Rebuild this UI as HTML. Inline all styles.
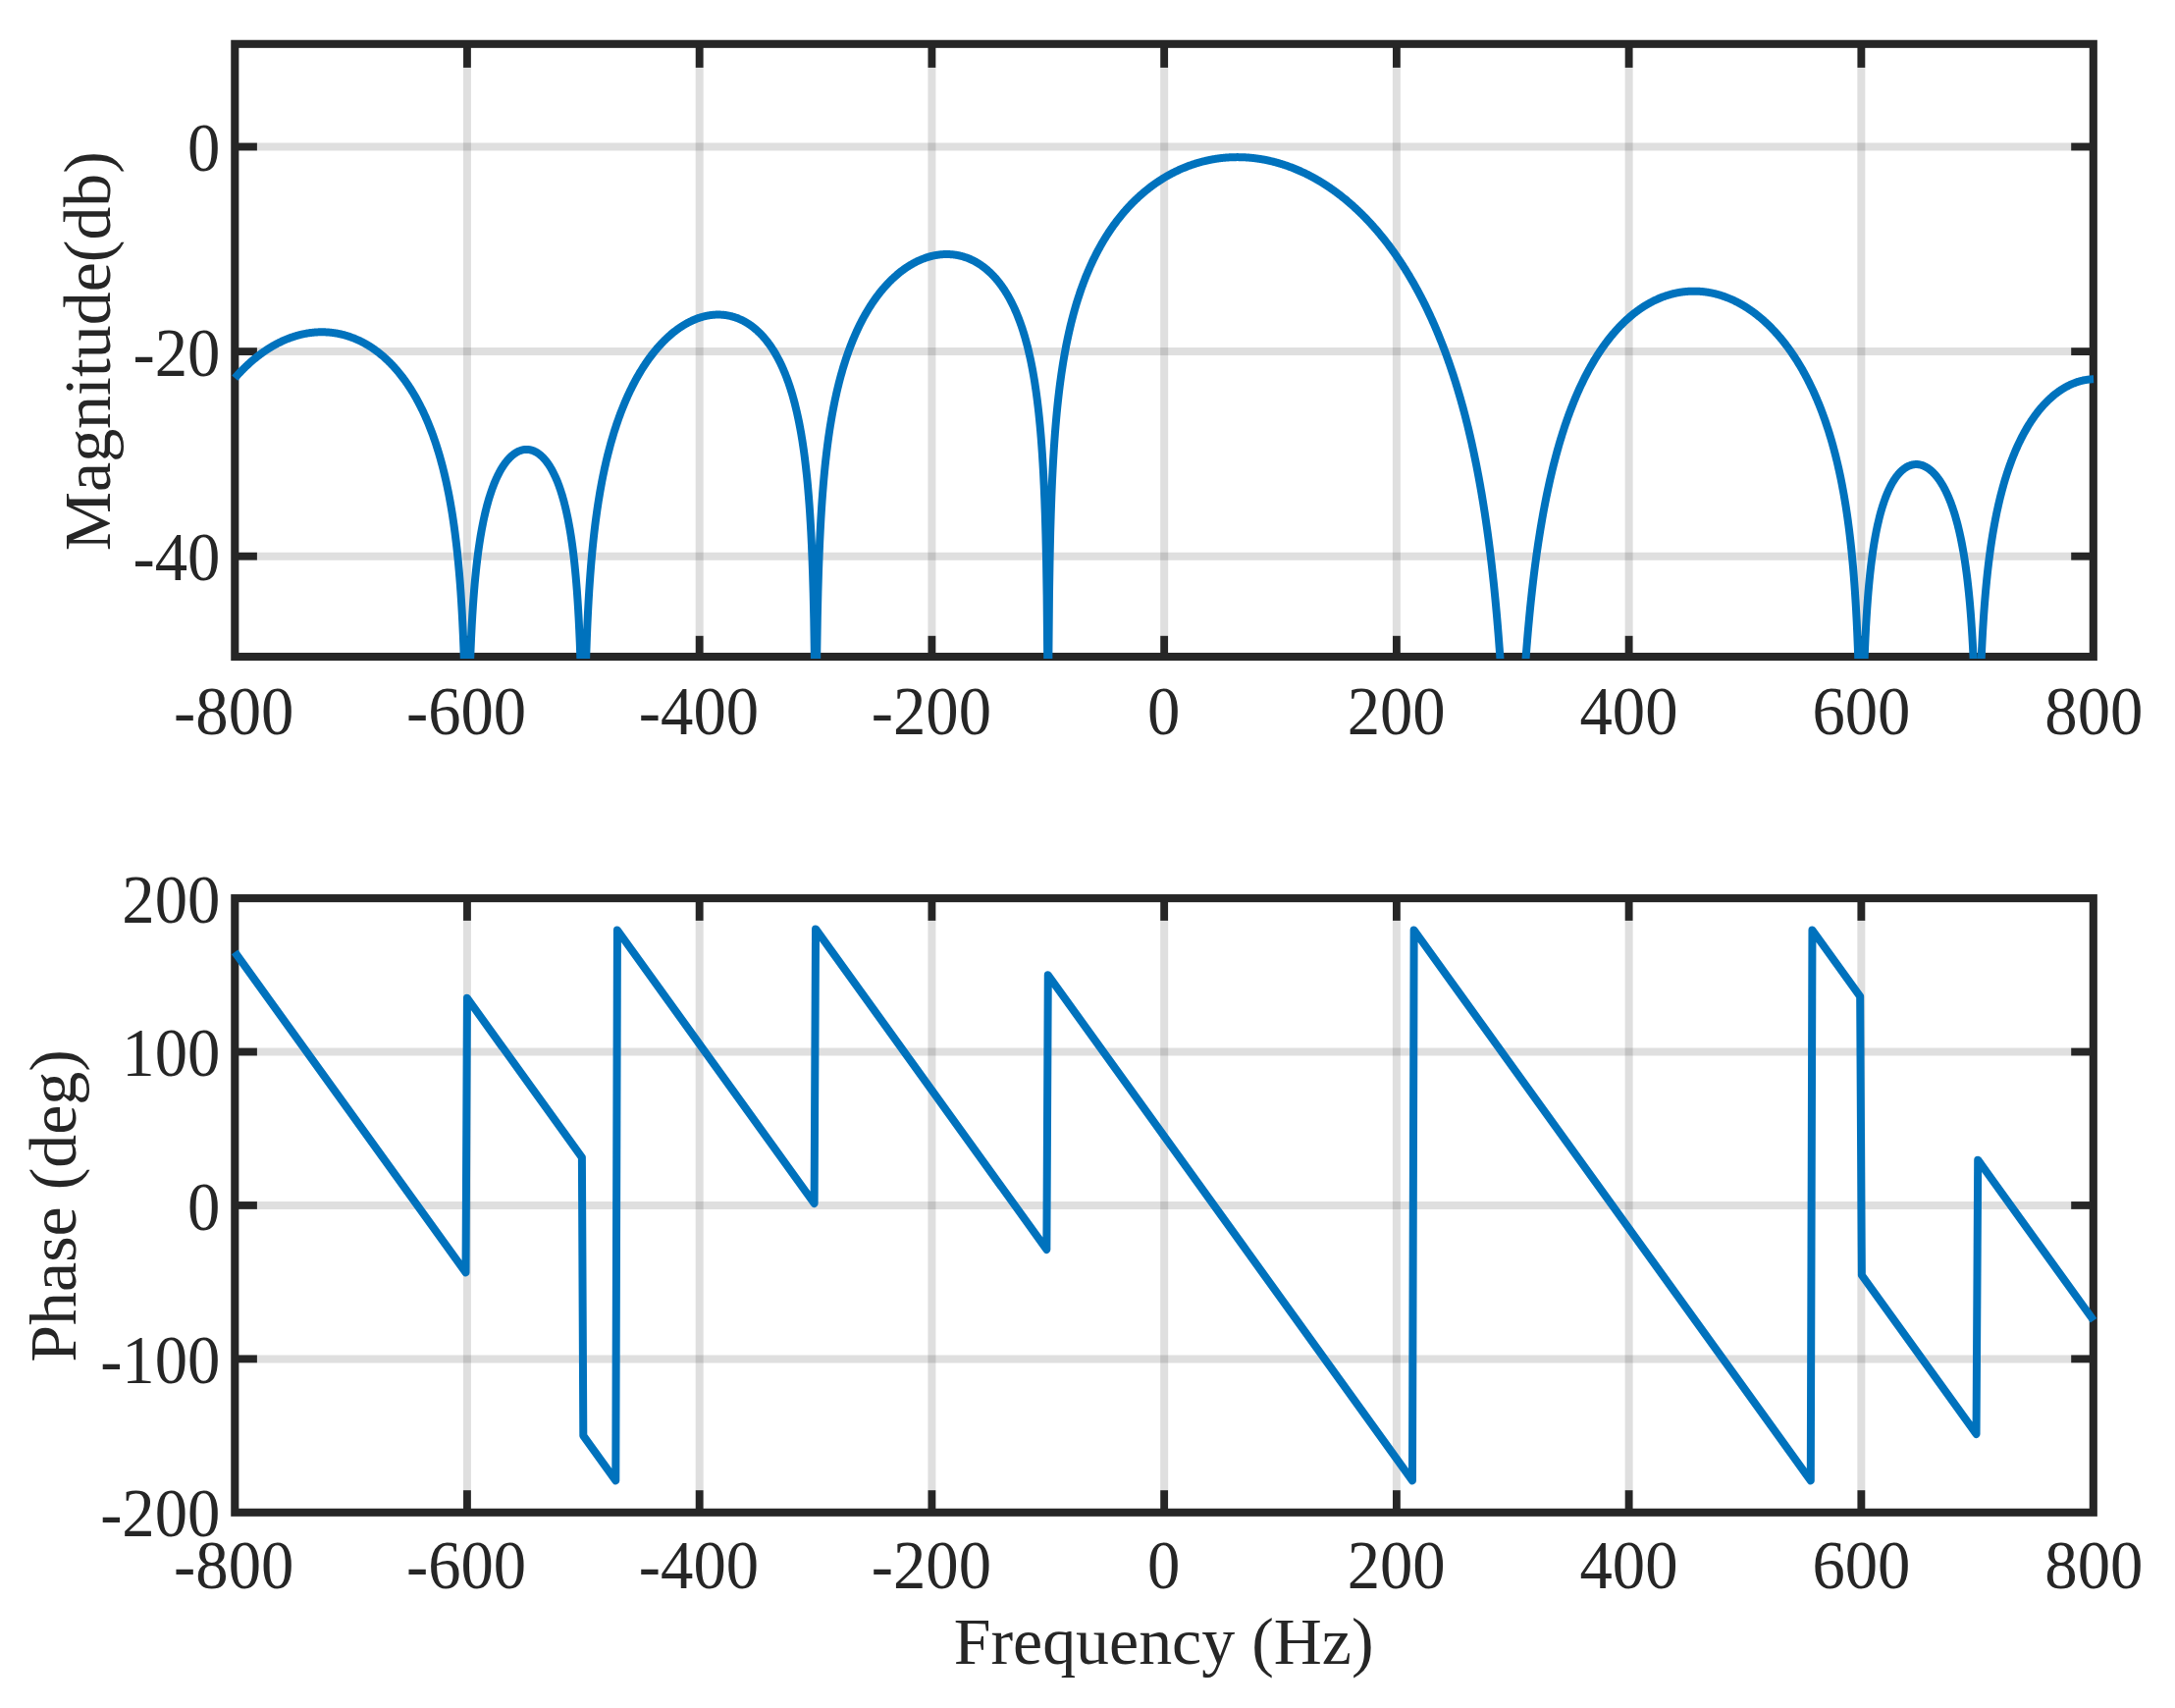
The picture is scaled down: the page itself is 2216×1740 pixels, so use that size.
<!DOCTYPE html>
<html lang="en"><head><meta charset="utf-8"><title>Magnitude and phase response</title>
<style>html,body{margin:0;padding:0;background:#fff;overflow:hidden}svg{display:block}text{font-family:"Liberation Serif","Times New Roman",Times,serif;font-size:67.90px;fill:#262626}.k{font-size:66.70px}.g{stroke:#262626;stroke-opacity:0.15;stroke-width:8.00}.t{stroke:#262626;stroke-width:7.80}.b{fill:none;stroke:#262626;stroke-width:8.10}.c{fill:none;stroke:#0072bd;stroke-width:8.00;stroke-linejoin:round;stroke-linecap:butt}</style></head><body>
<svg width="2216" height="1740" viewBox="0 0 2216 1740">
<rect width="2216" height="1740" fill="#fff"/>
<defs><clipPath id="ct"><rect x="227.20" y="44.80" width="1917.90" height="626.20"/></clipPath></defs>
<g>
<line class="g" x1="475.94" y1="44.80" x2="475.94" y2="669.00"/>
<line class="g" x1="712.67" y1="44.80" x2="712.67" y2="669.00"/>
<line class="g" x1="949.41" y1="44.80" x2="949.41" y2="669.00"/>
<line class="g" x1="1186.15" y1="44.80" x2="1186.15" y2="669.00"/>
<line class="g" x1="1422.89" y1="44.80" x2="1422.89" y2="669.00"/>
<line class="g" x1="1659.62" y1="44.80" x2="1659.62" y2="669.00"/>
<line class="g" x1="1896.36" y1="44.80" x2="1896.36" y2="669.00"/>
<line class="g" x1="239.30" y1="149.50" x2="2132.80" y2="149.50"/>
<line class="g" x1="239.30" y1="358.10" x2="2132.80" y2="358.10"/>
<line class="g" x1="239.30" y1="566.70" x2="2132.80" y2="566.70"/>
<line class="t" x1="475.94" y1="44.80" x2="475.94" y2="68.90"/>
<line class="t" x1="475.94" y1="669.00" x2="475.94" y2="647.80"/>
<line class="t" x1="712.67" y1="44.80" x2="712.67" y2="68.90"/>
<line class="t" x1="712.67" y1="669.00" x2="712.67" y2="647.80"/>
<line class="t" x1="949.41" y1="44.80" x2="949.41" y2="68.90"/>
<line class="t" x1="949.41" y1="669.00" x2="949.41" y2="647.80"/>
<line class="t" x1="1186.15" y1="44.80" x2="1186.15" y2="68.90"/>
<line class="t" x1="1186.15" y1="669.00" x2="1186.15" y2="647.80"/>
<line class="t" x1="1422.89" y1="44.80" x2="1422.89" y2="68.90"/>
<line class="t" x1="1422.89" y1="669.00" x2="1422.89" y2="647.80"/>
<line class="t" x1="1659.62" y1="44.80" x2="1659.62" y2="68.90"/>
<line class="t" x1="1659.62" y1="669.00" x2="1659.62" y2="647.80"/>
<line class="t" x1="1896.36" y1="44.80" x2="1896.36" y2="68.90"/>
<line class="t" x1="1896.36" y1="669.00" x2="1896.36" y2="647.80"/>
<line class="t" x1="239.30" y1="149.50" x2="261.90" y2="149.50"/>
<line class="t" x1="2132.80" y1="149.50" x2="2110.20" y2="149.50"/>
<line class="t" x1="239.30" y1="358.10" x2="261.90" y2="358.10"/>
<line class="t" x1="2132.80" y1="358.10" x2="2110.20" y2="358.10"/>
<line class="t" x1="239.30" y1="566.70" x2="261.90" y2="566.70"/>
<line class="t" x1="2132.80" y1="566.70" x2="2110.20" y2="566.70"/>
<rect class="b" x="239.30" y="44.80" width="1893.50" height="624.20"/>
</g>
<path class="c" clip-path="url(#ct)" d="M239.20,385.22 L239.79,384.55 L240.38,383.88 L240.98,383.22 L241.57,382.57 L242.16,381.92 L242.75,381.28 L243.34,380.64 L243.93,380.01 L244.53,379.38 L245.12,378.76 L245.71,378.15 L246.30,377.54 L246.89,376.94 L247.49,376.34 L248.08,375.75 L248.67,375.17 L249.26,374.59 L249.85,374.01 L250.45,373.44 L251.04,372.88 L251.63,372.32 L252.22,371.77 L252.81,371.22 L253.40,370.68 L254.00,370.14 L254.59,369.61 L255.18,369.08 L255.77,368.56 L256.36,368.05 L256.96,367.53 L257.55,367.03 L258.14,366.53 L258.73,366.03 L259.32,365.54 L259.91,365.05 L260.51,364.57 L261.10,364.10 L261.69,363.62 L262.28,363.16 L262.87,362.70 L263.47,362.24 L264.06,361.79 L264.65,361.34 L265.24,360.90 L265.83,360.46 L266.42,360.03 L267.02,359.60 L267.61,359.18 L268.20,358.76 L268.79,358.34 L269.38,357.93 L269.98,357.53 L270.57,357.13 L271.16,356.73 L271.75,356.34 L272.34,355.95 L272.94,355.57 L273.53,355.19 L274.12,354.82 L274.71,354.45 L275.30,354.09 L275.89,353.73 L276.49,353.37 L277.08,353.02 L277.67,352.67 L278.26,352.33 L278.85,351.99 L279.45,351.66 L280.04,351.33 L280.63,351.01 L281.22,350.69 L281.81,350.37 L282.40,350.06 L283.00,349.75 L283.59,349.45 L284.18,349.15 L284.77,348.85 L285.36,348.56 L285.96,348.28 L286.55,347.99 L287.14,347.72 L287.73,347.44 L288.32,347.17 L288.91,346.91 L289.51,346.65 L290.10,346.39 L290.69,346.14 L291.28,345.89 L291.87,345.64 L292.47,345.40 L293.06,345.16 L293.65,344.93 L294.24,344.70 L294.83,344.48 L295.43,344.26 L296.02,344.04 L296.61,343.83 L297.20,343.62 L297.79,343.42 L298.38,343.22 L298.98,343.02 L299.57,342.83 L300.16,342.64 L300.75,342.46 L301.34,342.28 L301.94,342.10 L302.53,341.93 L303.12,341.76 L303.71,341.60 L304.30,341.44 L304.89,341.28 L305.49,341.13 L306.08,340.98 L306.67,340.84 L307.26,340.70 L307.85,340.56 L308.45,340.43 L309.04,340.30 L309.63,340.18 L310.22,340.06 L310.81,339.94 L311.40,339.83 L312.00,339.72 L312.59,339.62 L313.18,339.51 L313.77,339.42 L314.36,339.33 L314.96,339.24 L315.55,339.15 L316.14,339.07 L316.73,338.99 L317.32,338.92 L317.92,338.85 L318.51,338.79 L319.10,338.73 L319.69,338.67 L320.28,338.61 L320.87,338.57 L321.47,338.52 L322.06,338.48 L322.65,338.44 L323.24,338.41 L323.83,338.38 L324.43,338.35 L325.02,338.33 L325.61,338.31 L326.20,338.30 L326.79,338.29 L327.38,338.28 L327.98,338.28 L328.57,338.28 L329.16,338.29 L329.75,338.30 L330.34,338.31 L330.94,338.33 L331.53,338.36 L332.12,338.38 L332.71,338.41 L333.30,338.45 L333.89,338.48 L334.49,338.53 L335.08,338.57 L335.67,338.62 L336.26,338.68 L336.85,338.74 L337.45,338.80 L338.04,338.87 L338.63,338.94 L339.22,339.01 L339.81,339.09 L340.41,339.18 L341.00,339.26 L341.59,339.36 L342.18,339.45 L342.77,339.55 L343.36,339.66 L343.96,339.77 L344.55,339.88 L345.14,340.00 L345.73,340.12 L346.32,340.24 L346.92,340.37 L347.51,340.51 L348.10,340.65 L348.69,340.79 L349.28,340.94 L349.87,341.09 L350.47,341.24 L351.06,341.40 L351.65,341.57 L352.24,341.74 L352.83,341.91 L353.43,342.09 L354.02,342.27 L354.61,342.46 L355.20,342.65 L355.79,342.84 L356.39,343.04 L356.98,343.25 L357.57,343.46 L358.16,343.67 L358.75,343.89 L359.34,344.12 L359.94,344.34 L360.53,344.58 L361.12,344.81 L361.71,345.06 L362.30,345.30 L362.90,345.56 L363.49,345.81 L364.08,346.07 L364.67,346.34 L365.26,346.61 L365.85,346.89 L366.45,347.17 L367.04,347.45 L367.63,347.74 L368.22,348.04 L368.81,348.34 L369.41,348.65 L370.00,348.96 L370.59,349.27 L371.18,349.59 L371.77,349.92 L372.36,350.25 L372.96,350.59 L373.55,350.93 L374.14,351.28 L374.73,351.63 L375.32,351.99 L375.92,352.36 L376.51,352.72 L377.10,353.10 L377.69,353.48 L378.28,353.87 L378.88,354.26 L379.47,354.65 L380.06,355.06 L380.65,355.46 L381.24,355.88 L381.83,356.30 L382.43,356.73 L383.02,357.16 L383.61,357.60 L384.20,358.04 L384.79,358.49 L385.39,358.95 L385.98,359.41 L386.57,359.88 L387.16,360.35 L387.75,360.83 L388.34,361.32 L388.94,361.81 L389.53,362.31 L390.12,362.82 L390.71,363.33 L391.30,363.85 L391.90,364.38 L392.49,364.92 L393.08,365.46 L393.67,366.00 L394.26,366.56 L394.85,367.12 L395.45,367.69 L396.04,368.26 L396.63,368.85 L397.22,369.44 L397.81,370.04 L398.41,370.64 L399.00,371.26 L399.59,371.88 L400.18,372.50 L400.77,373.14 L401.37,373.79 L401.96,374.44 L402.55,375.10 L403.14,375.77 L403.73,376.45 L404.32,377.13 L404.92,377.83 L405.51,378.53 L406.10,379.24 L406.69,379.96 L407.28,380.69 L407.88,381.43 L408.47,382.18 L409.06,382.93 L409.65,383.70 L410.24,384.48 L410.83,385.26 L411.43,386.06 L412.02,386.86 L412.61,387.68 L413.20,388.51 L413.79,389.34 L414.39,390.19 L414.98,391.05 L415.57,391.92 L416.16,392.80 L416.75,393.69 L417.34,394.59 L417.94,395.51 L418.53,396.43 L419.12,397.37 L419.71,398.32 L420.30,399.29 L420.90,400.26 L421.49,401.25 L422.08,402.25 L422.67,403.27 L423.26,404.30 L423.86,405.34 L424.45,406.40 L425.04,407.47 L425.63,408.56 L426.22,409.66 L426.81,410.78 L427.41,411.91 L428.00,413.06 L428.59,414.22 L429.18,415.41 L429.77,416.60 L430.37,417.82 L430.96,419.06 L431.55,420.31 L432.14,421.58 L432.73,422.87 L433.32,424.18 L433.92,425.51 L434.51,426.86 L435.10,428.23 L435.69,429.62 L436.28,431.04 L436.88,432.48 L437.47,433.94 L438.06,435.43 L438.65,436.94 L439.24,438.47 L439.84,440.03 L440.43,441.62 L441.02,443.24 L441.61,444.89 L442.20,446.56 L442.79,448.27 L443.39,450.01 L443.98,451.78 L444.57,453.58 L445.16,455.42 L445.75,457.30 L446.35,459.21 L446.94,461.16 L447.53,463.16 L448.12,465.19 L448.71,467.27 L449.30,469.39 L449.90,471.57 L450.49,473.79 L451.08,476.06 L451.67,478.39 L452.26,480.77 L452.86,483.22 L453.45,485.73 L454.04,488.30 L454.63,490.94 L455.22,493.65 L455.81,496.45 L456.41,499.32 L457.00,502.28 L457.59,505.33 L458.18,508.48 L458.77,511.73 L459.37,515.09 L459.96,518.57 L460.55,522.18 L461.14,525.93 L461.73,529.82 L462.33,533.87 L462.92,538.10 L463.51,542.52 L464.10,547.15 L464.69,552.01 L465.28,557.12 L465.88,562.52 L466.47,568.23 L467.06,574.30 L467.65,580.78 L468.24,587.73 L468.84,595.21 L469.43,603.33 L470.02,612.21 L470.61,622.00 L471.20,632.92 L471.79,645.26 L472.39,659.48 L472.98,676.26 L473.57,696.74 L474.16,723.06 L474.75,754.44 L475.35,754.44 L475.94,754.44 L476.53,754.44 L477.12,754.44 L477.71,724.73 L478.30,698.96 L478.90,679.03 L479.49,662.81 L480.08,649.15 L480.67,637.36 L481.26,627.00 L481.86,617.76 L482.45,609.45 L483.04,601.88 L483.63,594.96 L484.22,588.57 L484.82,582.65 L485.41,577.14 L486.00,571.99 L486.59,567.15 L487.18,562.60 L487.77,558.31 L488.37,554.24 L488.96,550.39 L489.55,546.73 L490.14,543.24 L490.73,539.91 L491.33,536.74 L491.92,533.70 L492.51,530.79 L493.10,528.00 L493.69,525.32 L494.28,522.75 L494.88,520.28 L495.47,517.90 L496.06,515.60 L496.65,513.40 L497.24,511.26 L497.84,509.21 L498.43,507.22 L499.02,505.31 L499.61,503.45 L500.20,501.66 L500.79,499.93 L501.39,498.25 L501.98,496.63 L502.57,495.06 L503.16,493.54 L503.75,492.06 L504.35,490.64 L504.94,489.25 L505.53,487.91 L506.12,486.62 L506.71,485.36 L507.31,484.14 L507.90,482.96 L508.49,481.81 L509.08,480.71 L509.67,479.63 L510.26,478.59 L510.86,477.58 L511.45,476.61 L512.04,475.66 L512.63,474.75 L513.22,473.86 L513.82,473.01 L514.41,472.18 L515.00,471.38 L515.59,470.61 L516.18,469.86 L516.77,469.14 L517.37,468.45 L517.96,467.78 L518.55,467.13 L519.14,466.51 L519.73,465.92 L520.33,465.34 L520.92,464.79 L521.51,464.27 L522.10,463.76 L522.69,463.28 L523.28,462.82 L523.88,462.38 L524.47,461.97 L525.06,461.57 L525.65,461.20 L526.24,460.85 L526.84,460.51 L527.43,460.20 L528.02,459.91 L528.61,459.64 L529.20,459.39 L529.80,459.16 L530.39,458.95 L530.98,458.75 L531.57,458.58 L532.16,458.43 L532.75,458.30 L533.35,458.19 L533.94,458.09 L534.53,458.02 L535.12,457.96 L535.71,457.93 L536.31,457.91 L536.90,457.92 L537.49,457.94 L538.08,457.98 L538.67,458.05 L539.26,458.13 L539.86,458.23 L540.45,458.35 L541.04,458.49 L541.63,458.65 L542.22,458.83 L542.82,459.04 L543.41,459.26 L544.00,459.50 L544.59,459.76 L545.18,460.05 L545.78,460.35 L546.37,460.68 L546.96,461.03 L547.55,461.39 L548.14,461.79 L548.73,462.20 L549.33,462.64 L549.92,463.10 L550.51,463.58 L551.10,464.08 L551.69,464.61 L552.29,465.17 L552.88,465.75 L553.47,466.35 L554.06,466.98 L554.65,467.63 L555.24,468.32 L555.84,469.03 L556.43,469.76 L557.02,470.53 L557.61,471.32 L558.20,472.15 L558.80,473.00 L559.39,473.89 L559.98,474.80 L560.57,475.75 L561.16,476.74 L561.75,477.76 L562.35,478.81 L562.94,479.90 L563.53,481.03 L564.12,482.20 L564.71,483.40 L565.31,484.65 L565.90,485.94 L566.49,487.28 L567.08,488.66 L567.67,490.09 L568.27,491.58 L568.86,493.11 L569.45,494.69 L570.04,496.34 L570.63,498.04 L571.22,499.80 L571.82,501.63 L572.41,503.52 L573.00,505.49 L573.59,507.53 L574.18,509.65 L574.78,511.85 L575.37,514.14 L575.96,516.53 L576.55,519.01 L577.14,521.60 L577.73,524.30 L578.33,527.12 L578.92,530.07 L579.51,533.15 L580.10,536.39 L580.69,539.79 L581.29,543.36 L581.88,547.13 L582.47,551.10 L583.06,555.31 L583.65,559.77 L584.24,564.51 L584.84,569.58 L585.43,575.00 L586.02,580.83 L586.61,587.13 L587.20,593.97 L587.80,601.44 L588.39,609.67 L588.98,618.82 L589.57,629.09 L590.16,640.79 L590.76,654.37 L591.35,670.50 L591.94,690.34 L592.53,716.02 L593.12,752.38 L593.71,754.44 L594.31,754.44 L594.90,754.44 L595.49,750.92 L596.08,713.83 L596.67,687.42 L597.27,666.85 L597.86,649.99 L598.45,635.69 L599.04,623.25 L599.63,612.25 L600.22,602.37 L600.82,593.41 L601.41,585.20 L602.00,577.63 L602.59,570.60 L603.18,564.04 L603.78,557.88 L604.37,552.08 L604.96,546.60 L605.55,541.41 L606.14,536.46 L606.73,531.75 L607.33,527.25 L607.92,522.93 L608.51,518.79 L609.10,514.82 L609.69,510.99 L610.29,507.29 L610.88,503.73 L611.47,500.28 L612.06,496.95 L612.65,493.72 L613.25,490.59 L613.84,487.54 L614.43,484.59 L615.02,481.72 L615.61,478.92 L616.20,476.20 L616.80,473.54 L617.39,470.95 L617.98,468.43 L618.57,465.96 L619.16,463.55 L619.76,461.20 L620.35,458.90 L620.94,456.65 L621.53,454.44 L622.12,452.28 L622.71,450.17 L623.31,448.10 L623.90,446.07 L624.49,444.07 L625.08,442.12 L625.67,440.20 L626.27,438.32 L626.86,436.47 L627.45,434.66 L628.04,432.87 L628.63,431.12 L629.23,429.40 L629.82,427.71 L630.41,426.04 L631.00,424.40 L631.59,422.79 L632.18,421.20 L632.78,419.64 L633.37,418.11 L633.96,416.60 L634.55,415.11 L635.14,413.64 L635.74,412.19 L636.33,410.77 L636.92,409.37 L637.51,407.98 L638.10,406.62 L638.69,405.28 L639.29,403.96 L639.88,402.65 L640.47,401.36 L641.06,400.09 L641.65,398.84 L642.25,397.61 L642.84,396.39 L643.43,395.19 L644.02,394.00 L644.61,392.83 L645.20,391.67 L645.80,390.53 L646.39,389.41 L646.98,388.30 L647.57,387.20 L648.16,386.12 L648.76,385.05 L649.35,384.00 L649.94,382.96 L650.53,381.93 L651.12,380.91 L651.72,379.91 L652.31,378.92 L652.90,377.94 L653.49,376.98 L654.08,376.02 L654.67,375.08 L655.27,374.15 L655.86,373.23 L656.45,372.32 L657.04,371.43 L657.63,370.54 L658.23,369.66 L658.82,368.80 L659.41,367.95 L660.00,367.10 L660.59,366.27 L661.18,365.45 L661.78,364.63 L662.37,363.83 L662.96,363.03 L663.55,362.25 L664.14,361.48 L664.74,360.71 L665.33,359.95 L665.92,359.21 L666.51,358.47 L667.10,357.74 L667.69,357.02 L668.29,356.31 L668.88,355.61 L669.47,354.91 L670.06,354.23 L670.65,353.55 L671.25,352.88 L671.84,352.22 L672.43,351.57 L673.02,350.93 L673.61,350.29 L674.21,349.66 L674.80,349.04 L675.39,348.43 L675.98,347.82 L676.57,347.23 L677.16,346.64 L677.76,346.06 L678.35,345.48 L678.94,344.92 L679.53,344.36 L680.12,343.81 L680.72,343.26 L681.31,342.73 L681.90,342.20 L682.49,341.67 L683.08,341.16 L683.67,340.65 L684.27,340.15 L684.86,339.65 L685.45,339.17 L686.04,338.68 L686.63,338.21 L687.23,337.74 L687.82,337.28 L688.41,336.83 L689.00,336.38 L689.59,335.94 L690.18,335.51 L690.78,335.08 L691.37,334.66 L691.96,334.25 L692.55,333.84 L693.14,333.44 L693.74,333.05 L694.33,332.66 L694.92,332.28 L695.51,331.90 L696.10,331.53 L696.70,331.17 L697.29,330.81 L697.88,330.46 L698.47,330.12 L699.06,329.78 L699.65,329.45 L700.25,329.13 L700.84,328.81 L701.43,328.50 L702.02,328.19 L702.61,327.89 L703.21,327.59 L703.80,327.31 L704.39,327.02 L704.98,326.75 L705.57,326.48 L706.16,326.21 L706.76,325.96 L707.35,325.70 L707.94,325.46 L708.53,325.22 L709.12,324.99 L709.72,324.76 L710.31,324.54 L710.90,324.32 L711.49,324.11 L712.08,323.91 L712.67,323.71 L713.27,323.52 L713.86,323.33 L714.45,323.15 L715.04,322.98 L715.63,322.81 L716.23,322.65 L716.82,322.49 L717.41,322.34 L718.00,322.20 L718.59,322.06 L719.19,321.93 L719.78,321.80 L720.37,321.68 L720.96,321.56 L721.55,321.46 L722.14,321.35 L722.74,321.26 L723.33,321.17 L723.92,321.08 L724.51,321.01 L725.10,320.93 L725.70,320.87 L726.29,320.81 L726.88,320.75 L727.47,320.71 L728.06,320.67 L728.65,320.63 L729.25,320.60 L729.84,320.58 L730.43,320.56 L731.02,320.55 L731.61,320.55 L732.21,320.55 L732.80,320.56 L733.39,320.57 L733.98,320.59 L734.57,320.62 L735.17,320.66 L735.76,320.70 L736.35,320.74 L736.94,320.79 L737.53,320.85 L738.12,320.92 L738.72,320.99 L739.31,321.07 L739.90,321.16 L740.49,321.25 L741.08,321.35 L741.68,321.46 L742.27,321.57 L742.86,321.69 L743.45,321.81 L744.04,321.95 L744.63,322.09 L745.23,322.23 L745.82,322.39 L746.41,322.55 L747.00,322.72 L747.59,322.89 L748.19,323.08 L748.78,323.27 L749.37,323.46 L749.96,323.67 L750.55,323.88 L751.14,324.10 L751.74,324.33 L752.33,324.56 L752.92,324.81 L753.51,325.06 L754.10,325.32 L754.70,325.58 L755.29,325.86 L755.88,326.14 L756.47,326.43 L757.06,326.73 L757.66,327.04 L758.25,327.35 L758.84,327.68 L759.43,328.01 L760.02,328.35 L760.61,328.70 L761.21,329.06 L761.80,329.43 L762.39,329.80 L762.98,330.19 L763.57,330.58 L764.17,330.99 L764.76,331.40 L765.35,331.83 L765.94,332.26 L766.53,332.70 L767.12,333.16 L767.72,333.62 L768.31,334.10 L768.90,334.58 L769.49,335.08 L770.08,335.58 L770.68,336.10 L771.27,336.63 L771.86,337.16 L772.45,337.71 L773.04,338.28 L773.63,338.85 L774.23,339.44 L774.82,340.03 L775.41,340.64 L776.00,341.26 L776.59,341.90 L777.19,342.55 L777.78,343.21 L778.37,343.88 L778.96,344.57 L779.55,345.28 L780.15,345.99 L780.74,346.72 L781.33,347.47 L781.92,348.23 L782.51,349.01 L783.10,349.80 L783.70,350.61 L784.29,351.43 L784.88,352.27 L785.47,353.13 L786.06,354.00 L786.66,354.90 L787.25,355.81 L787.84,356.74 L788.43,357.69 L789.02,358.66 L789.61,359.65 L790.21,360.66 L790.80,361.69 L791.39,362.74 L791.98,363.82 L792.57,364.92 L793.17,366.04 L793.76,367.18 L794.35,368.35 L794.94,369.55 L795.53,370.77 L796.12,372.03 L796.72,373.30 L797.31,374.61 L797.90,375.95 L798.49,377.32 L799.08,378.72 L799.68,380.15 L800.27,381.62 L800.86,383.12 L801.45,384.66 L802.04,386.24 L802.64,387.86 L803.23,389.52 L803.82,391.22 L804.41,392.97 L805.00,394.77 L805.59,396.61 L806.19,398.51 L806.78,400.45 L807.37,402.46 L807.96,404.52 L808.55,406.65 L809.15,408.84 L809.74,411.09 L810.33,413.42 L810.92,415.83 L811.51,418.31 L812.10,420.88 L812.70,423.55 L813.29,426.30 L813.88,429.17 L814.47,432.14 L815.06,435.22 L815.66,438.44 L816.25,441.79 L816.84,445.29 L817.43,448.94 L818.02,452.77 L818.62,456.79 L819.21,461.02 L819.80,465.48 L820.39,470.19 L820.98,475.18 L821.57,480.49 L822.17,486.15 L822.76,492.22 L823.35,498.76 L823.94,505.83 L824.53,513.54 L825.13,522.00 L825.72,531.38 L826.31,541.88 L826.90,553.81 L827.49,567.61 L828.08,583.96 L828.68,604.02 L829.27,629.92 L829.86,666.50 L830.45,729.14 L831.04,754.44 L831.64,728.84 L832.23,665.89 L832.82,629.01 L833.41,602.81 L834.00,582.45 L834.59,565.79 L835.19,551.68 L835.78,539.45 L836.37,528.65 L836.96,518.97 L837.55,510.20 L838.15,502.19 L838.74,494.81 L839.33,487.97 L839.92,481.60 L840.51,475.63 L841.11,470.02 L841.70,464.72 L842.29,459.71 L842.88,454.95 L843.47,450.42 L844.06,446.10 L844.66,441.96 L845.25,438.00 L845.84,434.20 L846.43,430.54 L847.02,427.02 L847.62,423.63 L848.21,420.36 L848.80,417.19 L849.39,414.13 L849.98,411.16 L850.57,408.29 L851.17,405.50 L851.76,402.79 L852.35,400.16 L852.94,397.59 L853.53,395.10 L854.13,392.67 L854.72,390.30 L855.31,387.99 L855.90,385.74 L856.49,383.54 L857.08,381.39 L857.68,379.29 L858.27,377.24 L858.86,375.23 L859.45,373.27 L860.04,371.34 L860.64,369.46 L861.23,367.61 L861.82,365.80 L862.41,364.03 L863.00,362.29 L863.60,360.58 L864.19,358.91 L864.78,357.27 L865.37,355.65 L865.96,354.07 L866.55,352.51 L867.15,350.98 L867.74,349.48 L868.33,348.00 L868.92,346.55 L869.51,345.12 L870.11,343.72 L870.70,342.33 L871.29,340.97 L871.88,339.64 L872.47,338.32 L873.06,337.02 L873.66,335.75 L874.25,334.49 L874.84,333.25 L875.43,332.03 L876.02,330.83 L876.62,329.65 L877.21,328.48 L877.80,327.33 L878.39,326.20 L878.98,325.08 L879.57,323.98 L880.17,322.90 L880.76,321.83 L881.35,320.77 L881.94,319.73 L882.53,318.71 L883.13,317.69 L883.72,316.70 L884.31,315.71 L884.90,314.74 L885.49,313.78 L886.09,312.84 L886.68,311.90 L887.27,310.98 L887.86,310.08 L888.45,309.18 L889.04,308.30 L889.64,307.42 L890.23,306.56 L890.82,305.71 L891.41,304.87 L892.00,304.05 L892.60,303.23 L893.19,302.42 L893.78,301.62 L894.37,300.84 L894.96,300.06 L895.55,299.30 L896.15,298.54 L896.74,297.79 L897.33,297.06 L897.92,296.33 L898.51,295.61 L899.11,294.90 L899.70,294.20 L900.29,293.51 L900.88,292.83 L901.47,292.15 L902.07,291.49 L902.66,290.83 L903.25,290.19 L903.84,289.55 L904.43,288.92 L905.02,288.29 L905.62,287.68 L906.21,287.07 L906.80,286.47 L907.39,285.88 L907.98,285.30 L908.58,284.72 L909.17,284.16 L909.76,283.60 L910.35,283.04 L910.94,282.50 L911.53,281.96 L912.13,281.43 L912.72,280.91 L913.31,280.39 L913.90,279.88 L914.49,279.38 L915.09,278.88 L915.68,278.40 L916.27,277.92 L916.86,277.44 L917.45,276.97 L918.04,276.51 L918.64,276.06 L919.23,275.61 L919.82,275.17 L920.41,274.74 L921.00,274.31 L921.60,273.89 L922.19,273.47 L922.78,273.06 L923.37,272.66 L923.96,272.27 L924.56,271.88 L925.15,271.49 L925.74,271.12 L926.33,270.74 L926.92,270.38 L927.51,270.02 L928.11,269.67 L928.70,269.32 L929.29,268.98 L929.88,268.65 L930.47,268.32 L931.07,268.00 L931.66,267.68 L932.25,267.37 L932.84,267.06 L933.43,266.77 L934.02,266.47 L934.62,266.19 L935.21,265.90 L935.80,265.63 L936.39,265.36 L936.98,265.09 L937.58,264.84 L938.17,264.58 L938.76,264.34 L939.35,264.09 L939.94,263.86 L940.53,263.63 L941.13,263.40 L941.72,263.19 L942.31,262.97 L942.90,262.76 L943.49,262.56 L944.09,262.37 L944.68,262.18 L945.27,261.99 L945.86,261.81 L946.45,261.64 L947.05,261.47 L947.64,261.31 L948.23,261.15 L948.82,261.00 L949.41,260.85 L950.00,260.71 L950.60,260.58 L951.19,260.45 L951.78,260.32 L952.37,260.20 L952.96,260.09 L953.56,259.98 L954.15,259.88 L954.74,259.79 L955.33,259.70 L955.92,259.61 L956.51,259.53 L957.11,259.46 L957.70,259.39 L958.29,259.33 L958.88,259.27 L959.47,259.22 L960.07,259.17 L960.66,259.13 L961.25,259.10 L961.84,259.07 L962.43,259.05 L963.02,259.03 L963.62,259.02 L964.21,259.01 L964.80,259.01 L965.39,259.02 L965.98,259.03 L966.58,259.05 L967.17,259.07 L967.76,259.10 L968.35,259.14 L968.94,259.18 L969.54,259.22 L970.13,259.28 L970.72,259.33 L971.31,259.40 L971.90,259.47 L972.49,259.55 L973.09,259.63 L973.68,259.72 L974.27,259.81 L974.86,259.91 L975.45,260.02 L976.05,260.13 L976.64,260.25 L977.23,260.38 L977.82,260.51 L978.41,260.65 L979.00,260.79 L979.60,260.94 L980.19,261.10 L980.78,261.27 L981.37,261.44 L981.96,261.62 L982.56,261.80 L983.15,261.99 L983.74,262.19 L984.33,262.39 L984.92,262.60 L985.51,262.82 L986.11,263.05 L986.70,263.28 L987.29,263.52 L987.88,263.77 L988.47,264.02 L989.07,264.28 L989.66,264.55 L990.25,264.82 L990.84,265.11 L991.43,265.40 L992.03,265.70 L992.62,266.00 L993.21,266.32 L993.80,266.64 L994.39,266.97 L994.98,267.31 L995.58,267.65 L996.17,268.01 L996.76,268.37 L997.35,268.74 L997.94,269.12 L998.54,269.51 L999.13,269.90 L999.72,270.31 L1000.31,270.72 L1000.90,271.15 L1001.49,271.58 L1002.09,272.02 L1002.68,272.47 L1003.27,272.93 L1003.86,273.40 L1004.45,273.88 L1005.05,274.37 L1005.64,274.87 L1006.23,275.38 L1006.82,275.90 L1007.41,276.43 L1008.01,276.98 L1008.60,277.53 L1009.19,278.09 L1009.78,278.67 L1010.37,279.25 L1010.96,279.85 L1011.56,280.46 L1012.15,281.08 L1012.74,281.72 L1013.33,282.36 L1013.92,283.02 L1014.52,283.69 L1015.11,284.38 L1015.70,285.07 L1016.29,285.79 L1016.88,286.51 L1017.47,287.25 L1018.07,288.00 L1018.66,288.77 L1019.25,289.56 L1019.84,290.35 L1020.43,291.17 L1021.03,292.00 L1021.62,292.85 L1022.21,293.71 L1022.80,294.59 L1023.39,295.49 L1023.98,296.40 L1024.58,297.34 L1025.17,298.29 L1025.76,299.26 L1026.35,300.25 L1026.94,301.27 L1027.54,302.30 L1028.13,303.35 L1028.72,304.43 L1029.31,305.53 L1029.90,306.65 L1030.50,307.80 L1031.09,308.97 L1031.68,310.16 L1032.27,311.39 L1032.86,312.63 L1033.45,313.91 L1034.05,315.22 L1034.64,316.55 L1035.23,317.92 L1035.82,319.31 L1036.41,320.74 L1037.01,322.21 L1037.60,323.70 L1038.19,325.24 L1038.78,326.81 L1039.37,328.43 L1039.96,330.08 L1040.56,331.78 L1041.15,333.52 L1041.74,335.30 L1042.33,337.14 L1042.92,339.03 L1043.52,340.97 L1044.11,342.96 L1044.70,345.01 L1045.29,347.13 L1045.88,349.31 L1046.47,351.55 L1047.07,353.87 L1047.66,356.27 L1048.25,358.74 L1048.84,361.30 L1049.43,363.95 L1050.03,366.69 L1050.62,369.54 L1051.21,372.50 L1051.80,375.57 L1052.39,378.77 L1052.99,382.10 L1053.58,385.59 L1054.17,389.23 L1054.76,393.04 L1055.35,397.04 L1055.94,401.25 L1056.54,405.69 L1057.13,410.38 L1057.72,415.36 L1058.31,420.64 L1058.90,426.29 L1059.50,432.34 L1060.09,438.85 L1060.68,445.91 L1061.27,453.59 L1061.86,462.03 L1062.45,471.38 L1063.05,481.86 L1063.64,493.77 L1064.23,507.55 L1064.82,523.88 L1065.41,543.91 L1066.01,569.79 L1066.60,606.34 L1067.19,668.95 L1067.78,754.44 L1068.37,668.59 L1068.96,605.62 L1069.56,568.71 L1070.15,542.48 L1070.74,522.09 L1071.33,505.40 L1071.92,491.27 L1072.52,479.01 L1073.11,468.17 L1073.70,458.46 L1074.29,449.66 L1074.88,441.62 L1075.48,434.21 L1076.07,427.33 L1076.66,420.93 L1077.25,414.92 L1077.84,409.28 L1078.43,403.95 L1079.03,398.90 L1079.62,394.10 L1080.21,389.53 L1080.80,385.17 L1081.39,381.00 L1081.99,377.00 L1082.58,373.16 L1083.17,369.47 L1083.76,365.91 L1084.35,362.47 L1084.94,359.16 L1085.54,355.95 L1086.13,352.85 L1086.72,349.84 L1087.31,346.92 L1087.90,344.09 L1088.50,341.33 L1089.09,338.65 L1089.68,336.05 L1090.27,333.51 L1090.86,331.03 L1091.45,328.62 L1092.05,326.26 L1092.64,323.96 L1093.23,321.71 L1093.82,319.51 L1094.41,317.36 L1095.01,315.26 L1095.60,313.20 L1096.19,311.18 L1096.78,309.21 L1097.37,307.27 L1097.97,305.37 L1098.56,303.51 L1099.15,301.68 L1099.74,299.88 L1100.33,298.12 L1100.92,296.39 L1101.52,294.69 L1102.11,293.02 L1102.70,291.38 L1103.29,289.76 L1103.88,288.17 L1104.48,286.61 L1105.07,285.07 L1105.66,283.56 L1106.25,282.07 L1106.84,280.60 L1107.43,279.15 L1108.03,277.73 L1108.62,276.33 L1109.21,274.95 L1109.80,273.58 L1110.39,272.24 L1110.99,270.92 L1111.58,269.61 L1112.17,268.32 L1112.76,267.05 L1113.35,265.80 L1113.95,264.56 L1114.54,263.34 L1115.13,262.13 L1115.72,260.95 L1116.31,259.77 L1116.90,258.61 L1117.50,257.47 L1118.09,256.34 L1118.68,255.22 L1119.27,254.12 L1119.86,253.03 L1120.46,251.95 L1121.05,250.89 L1121.64,249.84 L1122.23,248.80 L1122.82,247.77 L1123.41,246.75 L1124.01,245.75 L1124.60,244.76 L1125.19,243.78 L1125.78,242.81 L1126.37,241.85 L1126.97,240.90 L1127.56,239.96 L1128.15,239.03 L1128.74,238.12 L1129.33,237.21 L1129.92,236.31 L1130.52,235.42 L1131.11,234.54 L1131.70,233.67 L1132.29,232.81 L1132.88,231.96 L1133.48,231.12 L1134.07,230.28 L1134.66,229.46 L1135.25,228.64 L1135.84,227.83 L1136.44,227.03 L1137.03,226.24 L1137.62,225.45 L1138.21,224.67 L1138.80,223.91 L1139.39,223.14 L1139.99,222.39 L1140.58,221.64 L1141.17,220.90 L1141.76,220.17 L1142.35,219.45 L1142.95,218.73 L1143.54,218.02 L1144.13,217.31 L1144.72,216.62 L1145.31,215.93 L1145.90,215.24 L1146.50,214.56 L1147.09,213.89 L1147.68,213.23 L1148.27,212.57 L1148.86,211.92 L1149.46,211.27 L1150.05,210.63 L1150.64,210.00 L1151.23,209.37 L1151.82,208.75 L1152.41,208.13 L1153.01,207.52 L1153.60,206.92 L1154.19,206.32 L1154.78,205.72 L1155.37,205.14 L1155.97,204.55 L1156.56,203.98 L1157.15,203.41 L1157.74,202.84 L1158.33,202.28 L1158.93,201.72 L1159.52,201.17 L1160.11,200.63 L1160.70,200.09 L1161.29,199.55 L1161.88,199.02 L1162.48,198.49 L1163.07,197.97 L1163.66,197.46 L1164.25,196.95 L1164.84,196.44 L1165.44,195.94 L1166.03,195.44 L1166.62,194.95 L1167.21,194.46 L1167.80,193.98 L1168.39,193.50 L1168.99,193.02 L1169.58,192.55 L1170.17,192.09 L1170.76,191.63 L1171.35,191.17 L1171.95,190.72 L1172.54,190.27 L1173.13,189.83 L1173.72,189.39 L1174.31,188.95 L1174.90,188.52 L1175.50,188.09 L1176.09,187.67 L1176.68,187.25 L1177.27,186.83 L1177.86,186.42 L1178.46,186.01 L1179.05,185.61 L1179.64,185.21 L1180.23,184.82 L1180.82,184.42 L1181.42,184.04 L1182.01,183.65 L1182.60,183.27 L1183.19,182.90 L1183.78,182.52 L1184.37,182.15 L1184.97,181.79 L1185.56,181.43 L1186.15,181.07 L1186.74,180.71 L1187.33,180.36 L1187.93,180.02 L1188.52,179.67 L1189.11,179.33 L1189.70,178.99 L1190.29,178.66 L1190.88,178.33 L1191.48,178.01 L1192.07,177.68 L1192.66,177.36 L1193.25,177.05 L1193.84,176.73 L1194.44,176.42 L1195.03,176.12 L1195.62,175.82 L1196.21,175.52 L1196.80,175.22 L1197.40,174.93 L1197.99,174.64 L1198.58,174.35 L1199.17,174.07 L1199.76,173.79 L1200.35,173.51 L1200.95,173.24 L1201.54,172.97 L1202.13,172.70 L1202.72,172.44 L1203.31,172.18 L1203.91,171.92 L1204.50,171.66 L1205.09,171.41 L1205.68,171.16 L1206.27,170.92 L1206.86,170.68 L1207.46,170.44 L1208.05,170.20 L1208.64,169.97 L1209.23,169.74 L1209.82,169.51 L1210.42,169.28 L1211.01,169.06 L1211.60,168.84 L1212.19,168.63 L1212.78,168.42 L1213.37,168.21 L1213.97,168.00 L1214.56,167.80 L1215.15,167.59 L1215.74,167.40 L1216.33,167.20 L1216.93,167.01 L1217.52,166.82 L1218.11,166.63 L1218.70,166.45 L1219.29,166.27 L1219.89,166.09 L1220.48,165.91 L1221.07,165.74 L1221.66,165.57 L1222.25,165.40 L1222.84,165.24 L1223.44,165.07 L1224.03,164.92 L1224.62,164.76 L1225.21,164.60 L1225.80,164.45 L1226.40,164.31 L1226.99,164.16 L1227.58,164.02 L1228.17,163.88 L1228.76,163.74 L1229.35,163.60 L1229.95,163.47 L1230.54,163.34 L1231.13,163.22 L1231.72,163.09 L1232.31,162.97 L1232.91,162.85 L1233.50,162.73 L1234.09,162.62 L1234.68,162.51 L1235.27,162.40 L1235.86,162.29 L1236.46,162.19 L1237.05,162.09 L1237.64,161.99 L1238.23,161.90 L1238.82,161.80 L1239.42,161.71 L1240.01,161.63 L1240.60,161.54 L1241.19,161.46 L1241.78,161.38 L1242.38,161.30 L1242.97,161.22 L1243.56,161.15 L1244.15,161.08 L1244.74,161.01 L1245.33,160.95 L1245.93,160.89 L1246.52,160.83 L1247.11,160.77 L1247.70,160.71 L1248.29,160.66 L1248.89,160.61 L1249.48,160.56 L1250.07,160.52 L1250.66,160.47 L1251.25,160.43 L1251.84,160.40 L1252.44,160.36 L1253.03,160.33 L1253.62,160.30 L1254.21,160.27 L1254.80,160.24 L1255.40,160.22 L1255.99,160.20 L1256.58,160.18 L1257.17,160.17 L1257.76,160.15 L1258.35,160.14 L1258.95,160.13 L1259.54,160.13 L1260.13,160.12 L1260.72,160.12 L1261.31,160.12 L1261.91,160.13 L1262.50,160.13 L1263.09,160.14 L1263.68,160.15 L1264.27,160.17 L1264.87,160.18 L1265.46,160.20 L1266.05,160.22 L1266.64,160.25 L1267.23,160.27 L1267.82,160.30 L1268.42,160.33 L1269.01,160.36 L1269.60,160.40 L1270.19,160.44 L1270.78,160.48 L1271.38,160.52 L1271.97,160.56 L1272.56,160.61 L1273.15,160.66 L1273.74,160.71 L1274.33,160.77 L1274.93,160.82 L1275.52,160.88 L1276.11,160.94 L1276.70,161.01 L1277.29,161.08 L1277.89,161.14 L1278.48,161.22 L1279.07,161.29 L1279.66,161.37 L1280.25,161.44 L1280.84,161.52 L1281.44,161.61 L1282.03,161.69 L1282.62,161.78 L1283.21,161.87 L1283.80,161.96 L1284.40,162.06 L1284.99,162.16 L1285.58,162.26 L1286.17,162.36 L1286.76,162.47 L1287.36,162.57 L1287.95,162.68 L1288.54,162.79 L1289.13,162.91 L1289.72,163.03 L1290.31,163.14 L1290.91,163.27 L1291.50,163.39 L1292.09,163.52 L1292.68,163.65 L1293.27,163.78 L1293.87,163.91 L1294.46,164.05 L1295.05,164.19 L1295.64,164.33 L1296.23,164.47 L1296.82,164.62 L1297.42,164.76 L1298.01,164.91 L1298.60,165.07 L1299.19,165.22 L1299.78,165.38 L1300.38,165.54 L1300.97,165.70 L1301.56,165.87 L1302.15,166.04 L1302.74,166.21 L1303.34,166.38 L1303.93,166.55 L1304.52,166.73 L1305.11,166.91 L1305.70,167.09 L1306.29,167.28 L1306.89,167.47 L1307.48,167.66 L1308.07,167.85 L1308.66,168.04 L1309.25,168.24 L1309.85,168.44 L1310.44,168.64 L1311.03,168.85 L1311.62,169.05 L1312.21,169.26 L1312.80,169.48 L1313.40,169.69 L1313.99,169.91 L1314.58,170.13 L1315.17,170.35 L1315.76,170.57 L1316.36,170.80 L1316.95,171.03 L1317.54,171.26 L1318.13,171.50 L1318.72,171.73 L1319.31,171.97 L1319.91,172.21 L1320.50,172.46 L1321.09,172.71 L1321.68,172.96 L1322.27,173.21 L1322.87,173.46 L1323.46,173.72 L1324.05,173.98 L1324.64,174.24 L1325.23,174.51 L1325.83,174.78 L1326.42,175.05 L1327.01,175.32 L1327.60,175.60 L1328.19,175.87 L1328.78,176.15 L1329.38,176.44 L1329.97,176.72 L1330.56,177.01 L1331.15,177.30 L1331.74,177.60 L1332.34,177.89 L1332.93,178.19 L1333.52,178.50 L1334.11,178.80 L1334.70,179.11 L1335.29,179.42 L1335.89,179.73 L1336.48,180.04 L1337.07,180.36 L1337.66,180.68 L1338.25,181.01 L1338.85,181.33 L1339.44,181.66 L1340.03,181.99 L1340.62,182.33 L1341.21,182.66 L1341.80,183.00 L1342.40,183.35 L1342.99,183.69 L1343.58,184.04 L1344.17,184.39 L1344.76,184.74 L1345.36,185.10 L1345.95,185.46 L1346.54,185.82 L1347.13,186.19 L1347.72,186.55 L1348.32,186.92 L1348.91,187.30 L1349.50,187.67 L1350.09,188.05 L1350.68,188.44 L1351.27,188.82 L1351.87,189.21 L1352.46,189.60 L1353.05,189.99 L1353.64,190.39 L1354.23,190.79 L1354.83,191.19 L1355.42,191.60 L1356.01,192.00 L1356.60,192.42 L1357.19,192.83 L1357.78,193.25 L1358.38,193.67 L1358.97,194.09 L1359.56,194.52 L1360.15,194.95 L1360.74,195.38 L1361.34,195.81 L1361.93,196.25 L1362.52,196.69 L1363.11,197.14 L1363.70,197.59 L1364.29,198.04 L1364.89,198.49 L1365.48,198.95 L1366.07,199.41 L1366.66,199.87 L1367.25,200.34 L1367.85,200.81 L1368.44,201.28 L1369.03,201.76 L1369.62,202.24 L1370.21,202.72 L1370.81,203.21 L1371.40,203.70 L1371.99,204.19 L1372.58,204.68 L1373.17,205.18 L1373.76,205.69 L1374.36,206.19 L1374.95,206.70 L1375.54,207.21 L1376.13,207.73 L1376.72,208.25 L1377.32,208.77 L1377.91,209.30 L1378.50,209.83 L1379.09,210.36 L1379.68,210.90 L1380.27,211.44 L1380.87,211.98 L1381.46,212.53 L1382.05,213.08 L1382.64,213.63 L1383.23,214.19 L1383.83,214.75 L1384.42,215.32 L1385.01,215.89 L1385.60,216.46 L1386.19,217.04 L1386.79,217.62 L1387.38,218.20 L1387.97,218.79 L1388.56,219.38 L1389.15,219.97 L1389.74,220.57 L1390.34,221.17 L1390.93,221.78 L1391.52,222.39 L1392.11,223.00 L1392.70,223.62 L1393.30,224.24 L1393.89,224.87 L1394.48,225.50 L1395.07,226.13 L1395.66,226.77 L1396.25,227.41 L1396.85,228.06 L1397.44,228.71 L1398.03,229.36 L1398.62,230.02 L1399.21,230.68 L1399.81,231.35 L1400.40,232.02 L1400.99,232.69 L1401.58,233.37 L1402.17,234.06 L1402.76,234.74 L1403.36,235.44 L1403.95,236.13 L1404.54,236.83 L1405.13,237.54 L1405.72,238.25 L1406.32,238.96 L1406.91,239.68 L1407.50,240.41 L1408.09,241.13 L1408.68,241.87 L1409.28,242.60 L1409.87,243.35 L1410.46,244.09 L1411.05,244.84 L1411.64,245.60 L1412.23,246.36 L1412.83,247.13 L1413.42,247.90 L1414.01,248.67 L1414.60,249.45 L1415.19,250.24 L1415.79,251.03 L1416.38,251.82 L1416.97,252.62 L1417.56,253.43 L1418.15,254.24 L1418.74,255.06 L1419.34,255.88 L1419.93,256.70 L1420.52,257.54 L1421.11,258.37 L1421.70,259.21 L1422.30,260.06 L1422.89,260.92 L1423.48,261.78 L1424.07,262.64 L1424.66,263.51 L1425.25,264.39 L1425.85,265.27 L1426.44,266.16 L1427.03,267.05 L1427.62,267.95 L1428.21,268.85 L1428.81,269.76 L1429.40,270.68 L1429.99,271.60 L1430.58,272.53 L1431.17,273.47 L1431.77,274.41 L1432.36,275.36 L1432.95,276.31 L1433.54,277.27 L1434.13,278.24 L1434.72,279.22 L1435.32,280.20 L1435.91,281.18 L1436.50,282.18 L1437.09,283.18 L1437.68,284.18 L1438.28,285.20 L1438.87,286.22 L1439.46,287.25 L1440.05,288.28 L1440.64,289.33 L1441.23,290.38 L1441.83,291.43 L1442.42,292.50 L1443.01,293.57 L1443.60,294.65 L1444.19,295.74 L1444.79,296.83 L1445.38,297.94 L1445.97,299.05 L1446.56,300.17 L1447.15,301.29 L1447.74,302.43 L1448.34,303.57 L1448.93,304.72 L1449.52,305.88 L1450.11,307.05 L1450.70,308.23 L1451.30,309.42 L1451.89,310.61 L1452.48,311.81 L1453.07,313.03 L1453.66,314.25 L1454.26,315.48 L1454.85,316.72 L1455.44,317.97 L1456.03,319.23 L1456.62,320.50 L1457.21,321.78 L1457.81,323.07 L1458.40,324.37 L1458.99,325.68 L1459.58,327.00 L1460.17,328.33 L1460.77,329.67 L1461.36,331.02 L1461.95,332.38 L1462.54,333.76 L1463.13,335.14 L1463.72,336.54 L1464.32,337.95 L1464.91,339.37 L1465.50,340.80 L1466.09,342.24 L1466.68,343.70 L1467.28,345.17 L1467.87,346.65 L1468.46,348.14 L1469.05,349.65 L1469.64,351.17 L1470.23,352.70 L1470.83,354.25 L1471.42,355.81 L1472.01,357.39 L1472.60,358.97 L1473.19,360.58 L1473.79,362.20 L1474.38,363.83 L1474.97,365.48 L1475.56,367.14 L1476.15,368.82 L1476.75,370.51 L1477.34,372.23 L1477.93,373.95 L1478.52,375.70 L1479.11,377.46 L1479.70,379.24 L1480.30,381.04 L1480.89,382.85 L1481.48,384.69 L1482.07,386.54 L1482.66,388.41 L1483.26,390.30 L1483.85,392.21 L1484.44,394.14 L1485.03,396.09 L1485.62,398.07 L1486.21,400.06 L1486.81,402.08 L1487.40,404.12 L1487.99,406.18 L1488.58,408.26 L1489.17,410.37 L1489.77,412.50 L1490.36,414.66 L1490.95,416.85 L1491.54,419.06 L1492.13,421.29 L1492.73,423.56 L1493.32,425.85 L1493.91,428.17 L1494.50,430.52 L1495.09,432.90 L1495.68,435.31 L1496.28,437.75 L1496.87,440.22 L1497.46,442.73 L1498.05,445.27 L1498.64,447.85 L1499.24,450.46 L1499.83,453.11 L1500.42,455.80 L1501.01,458.52 L1501.60,461.29 L1502.19,464.10 L1502.79,466.95 L1503.38,469.84 L1503.97,472.78 L1504.56,475.77 L1505.15,478.80 L1505.75,481.89 L1506.34,485.02 L1506.93,488.21 L1507.52,491.46 L1508.11,494.76 L1508.70,498.12 L1509.30,501.54 L1509.89,505.02 L1510.48,508.57 L1511.07,512.18 L1511.66,515.87 L1512.26,519.63 L1512.85,523.47 L1513.44,527.39 L1514.03,531.39 L1514.62,535.47 L1515.22,539.65 L1515.81,543.92 L1516.40,548.29 L1516.99,552.77 L1517.58,557.35 L1518.17,562.05 L1518.77,566.87 L1519.36,571.81 L1519.95,576.89 L1520.54,582.11 L1521.13,587.48 L1521.73,593.00 L1522.32,598.69 L1522.91,604.57 L1523.50,610.63 L1524.09,616.89 L1524.68,623.37 L1525.28,630.08 L1525.87,637.04 L1526.46,644.27 L1527.05,651.80 L1527.64,659.63 L1528.24,667.82 L1528.83,676.37 L1529.42,685.34 L1530.01,694.77 L1530.60,704.70 L1531.19,715.19 L1531.79,726.30 L1532.38,738.13 L1532.97,750.77 L1533.56,754.44 L1534.15,754.44 L1534.75,754.44 L1535.34,754.44 L1535.93,754.44 L1536.52,754.44 L1537.11,754.44 L1537.71,754.44 L1538.30,754.44 L1538.89,754.44 L1539.48,754.44 L1540.07,754.44 L1540.66,754.44 L1541.26,754.44 L1541.85,754.44 L1542.44,754.44 L1543.03,754.44 L1543.62,754.44 L1544.22,754.44 L1544.81,754.44 L1545.40,754.44 L1545.99,754.44 L1546.58,754.44 L1547.17,754.44 L1547.77,754.44 L1548.36,754.44 L1548.95,754.44 L1549.54,754.44 L1550.13,742.66 L1550.73,731.14 L1551.32,720.32 L1551.91,710.13 L1552.50,700.51 L1553.09,691.38 L1553.68,682.72 L1554.28,674.46 L1554.87,666.58 L1555.46,659.05 L1556.05,651.83 L1556.64,644.90 L1557.24,638.24 L1557.83,631.83 L1558.42,625.65 L1559.01,619.69 L1559.60,613.93 L1560.20,608.36 L1560.79,602.97 L1561.38,597.75 L1561.97,592.69 L1562.56,587.77 L1563.15,583.00 L1563.75,578.35 L1564.34,573.84 L1564.93,569.44 L1565.52,565.16 L1566.11,560.99 L1566.71,556.93 L1567.30,552.96 L1567.89,549.08 L1568.48,545.30 L1569.07,541.60 L1569.66,537.99 L1570.26,534.46 L1570.85,531.00 L1571.44,527.62 L1572.03,524.30 L1572.62,521.06 L1573.22,517.88 L1573.81,514.77 L1574.40,511.71 L1574.99,508.71 L1575.58,505.78 L1576.18,502.89 L1576.77,500.06 L1577.36,497.28 L1577.95,494.55 L1578.54,491.87 L1579.13,489.24 L1579.73,486.65 L1580.32,484.10 L1580.91,481.60 L1581.50,479.14 L1582.09,476.72 L1582.69,474.34 L1583.28,471.99 L1583.87,469.69 L1584.46,467.42 L1585.05,465.18 L1585.64,462.98 L1586.24,460.81 L1586.83,458.68 L1587.42,456.58 L1588.01,454.50 L1588.60,452.46 L1589.20,450.45 L1589.79,448.46 L1590.38,446.51 L1590.97,444.58 L1591.56,442.68 L1592.15,440.80 L1592.75,438.95 L1593.34,437.13 L1593.93,435.33 L1594.52,433.55 L1595.11,431.80 L1595.71,430.07 L1596.30,428.36 L1596.89,426.68 L1597.48,425.01 L1598.07,423.37 L1598.67,421.75 L1599.26,420.15 L1599.85,418.57 L1600.44,417.01 L1601.03,415.46 L1601.62,413.94 L1602.22,412.44 L1602.81,410.95 L1603.40,409.48 L1603.99,408.03 L1604.58,406.60 L1605.18,405.18 L1605.77,403.78 L1606.36,402.40 L1606.95,401.03 L1607.54,399.68 L1608.13,398.35 L1608.73,397.03 L1609.32,395.72 L1609.91,394.43 L1610.50,393.16 L1611.09,391.89 L1611.69,390.65 L1612.28,389.42 L1612.87,388.20 L1613.46,386.99 L1614.05,385.80 L1614.64,384.62 L1615.24,383.45 L1615.83,382.30 L1616.42,381.16 L1617.01,380.03 L1617.60,378.92 L1618.20,377.81 L1618.79,376.72 L1619.38,375.64 L1619.97,374.57 L1620.56,373.52 L1621.16,372.47 L1621.75,371.44 L1622.34,370.42 L1622.93,369.40 L1623.52,368.40 L1624.11,367.41 L1624.71,366.43 L1625.30,365.46 L1625.89,364.50 L1626.48,363.55 L1627.07,362.61 L1627.67,361.68 L1628.26,360.76 L1628.85,359.85 L1629.44,358.95 L1630.03,358.06 L1630.62,357.18 L1631.22,356.30 L1631.81,355.44 L1632.40,354.59 L1632.99,353.74 L1633.58,352.90 L1634.18,352.08 L1634.77,351.26 L1635.36,350.44 L1635.95,349.64 L1636.54,348.85 L1637.13,348.06 L1637.73,347.28 L1638.32,346.52 L1638.91,345.75 L1639.50,345.00 L1640.09,344.25 L1640.69,343.52 L1641.28,342.79 L1641.87,342.06 L1642.46,341.35 L1643.05,340.64 L1643.65,339.94 L1644.24,339.25 L1644.83,338.57 L1645.42,337.89 L1646.01,337.22 L1646.60,336.55 L1647.20,335.90 L1647.79,335.25 L1648.38,334.61 L1648.97,333.97 L1649.56,333.34 L1650.16,332.72 L1650.75,332.10 L1651.34,331.50 L1651.93,330.89 L1652.52,330.30 L1653.11,329.71 L1653.71,329.13 L1654.30,328.55 L1654.89,327.98 L1655.48,327.42 L1656.07,326.86 L1656.67,326.31 L1657.26,325.77 L1657.85,325.23 L1658.44,324.70 L1659.03,324.17 L1659.62,323.65 L1660.22,323.13 L1660.81,322.63 L1661.40,322.12 L1661.99,321.63 L1662.58,321.14 L1663.18,320.65 L1663.77,320.17 L1664.36,319.70 L1664.95,319.23 L1665.54,318.77 L1666.14,318.31 L1666.73,317.86 L1667.32,317.41 L1667.91,316.97 L1668.50,316.54 L1669.09,316.11 L1669.69,315.68 L1670.28,315.27 L1670.87,314.85 L1671.46,314.44 L1672.05,314.04 L1672.65,313.64 L1673.24,313.25 L1673.83,312.86 L1674.42,312.48 L1675.01,312.10 L1675.60,311.73 L1676.20,311.36 L1676.79,311.00 L1677.38,310.65 L1677.97,310.29 L1678.56,309.95 L1679.16,309.60 L1679.75,309.27 L1680.34,308.93 L1680.93,308.61 L1681.52,308.28 L1682.12,307.97 L1682.71,307.65 L1683.30,307.34 L1683.89,307.04 L1684.48,306.74 L1685.07,306.45 L1685.67,306.16 L1686.26,305.87 L1686.85,305.59 L1687.44,305.32 L1688.03,305.05 L1688.63,304.78 L1689.22,304.52 L1689.81,304.26 L1690.40,304.01 L1690.99,303.76 L1691.58,303.52 L1692.18,303.28 L1692.77,303.04 L1693.36,302.81 L1693.95,302.59 L1694.54,302.37 L1695.14,302.15 L1695.73,301.94 L1696.32,301.73 L1696.91,301.53 L1697.50,301.33 L1698.09,301.13 L1698.69,300.94 L1699.28,300.75 L1699.87,300.57 L1700.46,300.39 L1701.05,300.22 L1701.65,300.05 L1702.24,299.88 L1702.83,299.72 L1703.42,299.57 L1704.01,299.41 L1704.61,299.27 L1705.20,299.12 L1705.79,298.98 L1706.38,298.85 L1706.97,298.71 L1707.56,298.59 L1708.16,298.46 L1708.75,298.34 L1709.34,298.23 L1709.93,298.12 L1710.52,298.01 L1711.12,297.91 L1711.71,297.81 L1712.30,297.72 L1712.89,297.62 L1713.48,297.54 L1714.07,297.46 L1714.67,297.38 L1715.26,297.30 L1715.85,297.23 L1716.44,297.17 L1717.03,297.10 L1717.63,297.05 L1718.22,296.99 L1718.81,296.94 L1719.40,296.90 L1719.99,296.85 L1720.58,296.82 L1721.18,296.78 L1721.77,296.75 L1722.36,296.72 L1722.95,296.70 L1723.54,296.68 L1724.14,296.67 L1724.73,296.66 L1725.32,296.65 L1725.91,296.65 L1726.50,296.65 L1727.10,296.66 L1727.69,296.67 L1728.28,296.68 L1728.87,296.70 L1729.46,296.72 L1730.05,296.75 L1730.65,296.78 L1731.24,296.81 L1731.83,296.85 L1732.42,296.89 L1733.01,296.94 L1733.61,296.98 L1734.20,297.04 L1734.79,297.10 L1735.38,297.16 L1735.97,297.22 L1736.56,297.29 L1737.16,297.37 L1737.75,297.44 L1738.34,297.53 L1738.93,297.61 L1739.52,297.70 L1740.12,297.79 L1740.71,297.89 L1741.30,297.99 L1741.89,298.10 L1742.48,298.21 L1743.07,298.32 L1743.67,298.44 L1744.26,298.56 L1744.85,298.69 L1745.44,298.82 L1746.03,298.95 L1746.63,299.09 L1747.22,299.23 L1747.81,299.38 L1748.40,299.53 L1748.99,299.68 L1749.59,299.84 L1750.18,300.00 L1750.77,300.17 L1751.36,300.34 L1751.95,300.51 L1752.54,300.69 L1753.14,300.87 L1753.73,301.06 L1754.32,301.25 L1754.91,301.44 L1755.50,301.64 L1756.10,301.85 L1756.69,302.05 L1757.28,302.26 L1757.87,302.48 L1758.46,302.70 L1759.05,302.92 L1759.65,303.15 L1760.24,303.38 L1760.83,303.62 L1761.42,303.86 L1762.01,304.10 L1762.61,304.35 L1763.20,304.61 L1763.79,304.86 L1764.38,305.13 L1764.97,305.39 L1765.57,305.66 L1766.16,305.94 L1766.75,306.22 L1767.34,306.50 L1767.93,306.79 L1768.52,307.08 L1769.12,307.38 L1769.71,307.68 L1770.30,307.98 L1770.89,308.29 L1771.48,308.61 L1772.08,308.92 L1772.67,309.25 L1773.26,309.57 L1773.85,309.91 L1774.44,310.24 L1775.03,310.58 L1775.63,310.93 L1776.22,311.28 L1776.81,311.63 L1777.40,311.99 L1777.99,312.36 L1778.59,312.72 L1779.18,313.10 L1779.77,313.48 L1780.36,313.86 L1780.95,314.25 L1781.54,314.64 L1782.14,315.03 L1782.73,315.44 L1783.32,315.84 L1783.91,316.25 L1784.50,316.67 L1785.10,317.09 L1785.69,317.52 L1786.28,317.95 L1786.87,318.38 L1787.46,318.82 L1788.06,319.27 L1788.65,319.72 L1789.24,320.18 L1789.83,320.64 L1790.42,321.10 L1791.01,321.57 L1791.61,322.05 L1792.20,322.53 L1792.79,323.02 L1793.38,323.51 L1793.97,324.01 L1794.57,324.51 L1795.16,325.02 L1795.75,325.53 L1796.34,326.05 L1796.93,326.58 L1797.52,327.11 L1798.12,327.64 L1798.71,328.19 L1799.30,328.73 L1799.89,329.29 L1800.48,329.84 L1801.08,330.41 L1801.67,330.98 L1802.26,331.55 L1802.85,332.14 L1803.44,332.72 L1804.03,333.32 L1804.63,333.92 L1805.22,334.52 L1805.81,335.14 L1806.40,335.75 L1806.99,336.38 L1807.59,337.01 L1808.18,337.65 L1808.77,338.29 L1809.36,338.94 L1809.95,339.60 L1810.55,340.26 L1811.14,340.93 L1811.73,341.60 L1812.32,342.29 L1812.91,342.98 L1813.50,343.67 L1814.10,344.38 L1814.69,345.09 L1815.28,345.81 L1815.87,346.53 L1816.46,347.26 L1817.06,348.00 L1817.65,348.75 L1818.24,349.51 L1818.83,350.27 L1819.42,351.04 L1820.01,351.81 L1820.61,352.60 L1821.20,353.39 L1821.79,354.19 L1822.38,355.00 L1822.97,355.82 L1823.57,356.64 L1824.16,357.48 L1824.75,358.32 L1825.34,359.17 L1825.93,360.03 L1826.52,360.90 L1827.12,361.78 L1827.71,362.66 L1828.30,363.56 L1828.89,364.46 L1829.48,365.37 L1830.08,366.30 L1830.67,367.23 L1831.26,368.17 L1831.85,369.13 L1832.44,370.09 L1833.04,371.06 L1833.63,372.04 L1834.22,373.04 L1834.81,374.04 L1835.40,375.06 L1835.99,376.08 L1836.59,377.12 L1837.18,378.17 L1837.77,379.23 L1838.36,380.30 L1838.95,381.38 L1839.55,382.48 L1840.14,383.59 L1840.73,384.71 L1841.32,385.84 L1841.91,386.98 L1842.50,388.14 L1843.10,389.32 L1843.69,390.50 L1844.28,391.70 L1844.87,392.92 L1845.46,394.14 L1846.06,395.39 L1846.65,396.65 L1847.24,397.92 L1847.83,399.21 L1848.42,400.51 L1849.02,401.84 L1849.61,403.18 L1850.20,404.53 L1850.79,405.90 L1851.38,407.29 L1851.97,408.70 L1852.57,410.13 L1853.16,411.58 L1853.75,413.05 L1854.34,414.53 L1854.93,416.04 L1855.53,417.57 L1856.12,419.12 L1856.71,420.69 L1857.30,422.28 L1857.89,423.90 L1858.48,425.54 L1859.08,427.21 L1859.67,428.90 L1860.26,430.62 L1860.85,432.37 L1861.44,434.14 L1862.04,435.95 L1862.63,437.78 L1863.22,439.64 L1863.81,441.53 L1864.40,443.46 L1864.99,445.42 L1865.59,447.42 L1866.18,449.45 L1866.77,451.52 L1867.36,453.63 L1867.95,455.78 L1868.55,457.97 L1869.14,460.21 L1869.73,462.49 L1870.32,464.81 L1870.91,467.19 L1871.51,469.62 L1872.10,472.11 L1872.69,474.65 L1873.28,477.25 L1873.87,479.91 L1874.46,482.64 L1875.06,485.44 L1875.65,488.31 L1876.24,491.26 L1876.83,494.28 L1877.42,497.40 L1878.02,500.61 L1878.61,503.91 L1879.20,507.32 L1879.79,510.84 L1880.38,514.47 L1880.97,518.24 L1881.57,522.14 L1882.16,526.19 L1882.75,530.40 L1883.34,534.78 L1883.93,539.36 L1884.53,544.14 L1885.12,549.16 L1885.71,554.43 L1886.30,559.98 L1886.89,565.85 L1887.48,572.08 L1888.08,578.71 L1888.67,585.81 L1889.26,593.45 L1889.85,601.73 L1890.44,610.76 L1891.04,620.70 L1891.63,631.78 L1892.22,644.28 L1892.81,658.65 L1893.40,675.58 L1894.00,696.22 L1894.59,722.70 L1895.18,754.44 L1895.77,754.44 L1896.36,754.44 L1896.95,754.44 L1897.55,754.44 L1898.14,725.29 L1898.73,699.68 L1899.32,679.91 L1899.91,663.85 L1900.51,650.34 L1901.10,638.70 L1901.69,628.49 L1902.28,619.41 L1902.87,611.25 L1903.46,603.84 L1904.06,597.07 L1904.65,590.84 L1905.24,585.07 L1905.83,579.72 L1906.42,574.72 L1907.02,570.04 L1907.61,565.64 L1908.20,561.50 L1908.79,557.59 L1909.38,553.89 L1909.97,550.38 L1910.57,547.05 L1911.16,543.88 L1911.75,540.85 L1912.34,537.97 L1912.93,535.21 L1913.53,532.58 L1914.12,530.06 L1914.71,527.64 L1915.30,525.32 L1915.89,523.09 L1916.49,520.95 L1917.08,518.90 L1917.67,516.92 L1918.26,515.02 L1918.85,513.19 L1919.44,511.42 L1920.04,509.72 L1920.63,508.08 L1921.22,506.50 L1921.81,504.98 L1922.40,503.51 L1923.00,502.09 L1923.59,500.72 L1924.18,499.40 L1924.77,498.13 L1925.36,496.90 L1925.95,495.71 L1926.55,494.57 L1927.14,493.46 L1927.73,492.40 L1928.32,491.37 L1928.91,490.38 L1929.51,489.42 L1930.10,488.50 L1930.69,487.61 L1931.28,486.75 L1931.87,485.93 L1932.46,485.14 L1933.06,484.37 L1933.65,483.64 L1934.24,482.94 L1934.83,482.26 L1935.42,481.61 L1936.02,480.99 L1936.61,480.40 L1937.20,479.83 L1937.79,479.29 L1938.38,478.77 L1938.98,478.28 L1939.57,477.81 L1940.16,477.36 L1940.75,476.94 L1941.34,476.54 L1941.93,476.17 L1942.53,475.82 L1943.12,475.48 L1943.71,475.18 L1944.30,474.89 L1944.89,474.62 L1945.49,474.38 L1946.08,474.16 L1946.67,473.95 L1947.26,473.77 L1947.85,473.61 L1948.44,473.47 L1949.04,473.35 L1949.63,473.25 L1950.22,473.17 L1950.81,473.11 L1951.40,473.06 L1952.00,473.04 L1952.59,473.04 L1953.18,473.06 L1953.77,473.09 L1954.36,473.15 L1954.96,473.23 L1955.55,473.32 L1956.14,473.44 L1956.73,473.57 L1957.32,473.72 L1957.91,473.89 L1958.51,474.09 L1959.10,474.30 L1959.69,474.53 L1960.28,474.78 L1960.87,475.05 L1961.47,475.34 L1962.06,475.65 L1962.65,475.98 L1963.24,476.33 L1963.83,476.70 L1964.42,477.09 L1965.02,477.51 L1965.61,477.94 L1966.20,478.39 L1966.79,478.87 L1967.38,479.36 L1967.98,479.88 L1968.57,480.42 L1969.16,480.99 L1969.75,481.57 L1970.34,482.18 L1970.93,482.81 L1971.53,483.46 L1972.12,484.14 L1972.71,484.85 L1973.30,485.57 L1973.89,486.33 L1974.49,487.10 L1975.08,487.91 L1975.67,488.74 L1976.26,489.60 L1976.85,490.48 L1977.45,491.40 L1978.04,492.34 L1978.63,493.31 L1979.22,494.32 L1979.81,495.35 L1980.40,496.42 L1981.00,497.52 L1981.59,498.65 L1982.18,499.82 L1982.77,501.02 L1983.36,502.26 L1983.96,503.53 L1984.55,504.85 L1985.14,506.21 L1985.73,507.61 L1986.32,509.05 L1986.91,510.53 L1987.51,512.06 L1988.10,513.64 L1988.69,515.27 L1989.28,516.95 L1989.87,518.69 L1990.47,520.48 L1991.06,522.33 L1991.65,524.24 L1992.24,526.22 L1992.83,528.27 L1993.42,530.38 L1994.02,532.57 L1994.61,534.84 L1995.20,537.19 L1995.79,539.63 L1996.38,542.16 L1996.98,544.79 L1997.57,547.53 L1998.16,550.38 L1998.75,553.35 L1999.34,556.45 L1999.94,559.68 L2000.53,563.07 L2001.12,566.62 L2001.71,570.34 L2002.30,574.25 L2002.89,578.38 L2003.49,582.73 L2004.08,587.34 L2004.67,592.24 L2005.26,597.45 L2005.85,603.02 L2006.45,609.00 L2007.04,615.45 L2007.63,622.44 L2008.22,630.06 L2008.81,638.44 L2009.40,647.74 L2010.00,658.16 L2010.59,670.02 L2011.18,683.74 L2011.77,700.02 L2012.36,720.01 L2012.96,745.84 L2013.55,754.44 L2014.14,754.44 L2014.73,754.44 L2015.32,754.44 L2015.91,754.44 L2016.51,744.56 L2017.10,718.29 L2017.69,697.88 L2018.28,681.17 L2018.87,667.01 L2019.47,654.73 L2020.06,643.87 L2020.65,634.15 L2021.24,625.34 L2021.83,617.28 L2022.43,609.86 L2023.02,602.98 L2023.61,596.57 L2024.20,590.56 L2024.79,584.92 L2025.38,579.59 L2025.98,574.54 L2026.57,569.75 L2027.16,565.19 L2027.75,560.83 L2028.34,556.67 L2028.94,552.68 L2029.53,548.86 L2030.12,545.18 L2030.71,541.64 L2031.30,538.23 L2031.89,534.93 L2032.49,531.75 L2033.08,528.67 L2033.67,525.69 L2034.26,522.80 L2034.85,520.00 L2035.45,517.28 L2036.04,514.63 L2036.63,512.06 L2037.22,509.56 L2037.81,507.13 L2038.40,504.75 L2039.00,502.44 L2039.59,500.18 L2040.18,497.98 L2040.77,495.83 L2041.36,493.73 L2041.96,491.68 L2042.55,489.68 L2043.14,487.72 L2043.73,485.80 L2044.32,483.92 L2044.92,482.08 L2045.51,480.28 L2046.10,478.52 L2046.69,476.79 L2047.28,475.10 L2047.87,473.43 L2048.47,471.81 L2049.06,470.21 L2049.65,468.64 L2050.24,467.10 L2050.83,465.59 L2051.43,464.11 L2052.02,462.65 L2052.61,461.22 L2053.20,459.81 L2053.79,458.43 L2054.38,457.07 L2054.98,455.74 L2055.57,454.43 L2056.16,453.14 L2056.75,451.87 L2057.34,450.62 L2057.94,449.40 L2058.53,448.19 L2059.12,447.00 L2059.71,445.83 L2060.30,444.68 L2060.90,443.55 L2061.49,442.44 L2062.08,441.34 L2062.67,440.27 L2063.26,439.20 L2063.85,438.16 L2064.45,437.13 L2065.04,436.12 L2065.63,435.12 L2066.22,434.14 L2066.81,433.17 L2067.41,432.22 L2068.00,431.28 L2068.59,430.36 L2069.18,429.44 L2069.77,428.55 L2070.36,427.67 L2070.96,426.80 L2071.55,425.94 L2072.14,425.10 L2072.73,424.26 L2073.32,423.45 L2073.92,422.64 L2074.51,421.84 L2075.10,421.06 L2075.69,420.29 L2076.28,419.53 L2076.87,418.78 L2077.47,418.05 L2078.06,417.32 L2078.65,416.61 L2079.24,415.90 L2079.83,415.21 L2080.43,414.53 L2081.02,413.85 L2081.61,413.19 L2082.20,412.54 L2082.79,411.90 L2083.39,411.26 L2083.98,410.64 L2084.57,410.03 L2085.16,409.43 L2085.75,408.83 L2086.34,408.25 L2086.94,407.67 L2087.53,407.11 L2088.12,406.55 L2088.71,406.00 L2089.30,405.46 L2089.90,404.93 L2090.49,404.41 L2091.08,403.90 L2091.67,403.39 L2092.26,402.90 L2092.85,402.41 L2093.45,401.93 L2094.04,401.46 L2094.63,401.00 L2095.22,400.54 L2095.81,400.09 L2096.41,399.66 L2097.00,399.22 L2097.59,398.80 L2098.18,398.39 L2098.77,397.98 L2099.36,397.58 L2099.96,397.19 L2100.55,396.80 L2101.14,396.43 L2101.73,396.06 L2102.32,395.69 L2102.92,395.34 L2103.51,394.99 L2104.10,394.65 L2104.69,394.32 L2105.28,393.99 L2105.88,393.67 L2106.47,393.36 L2107.06,393.06 L2107.65,392.76 L2108.24,392.47 L2108.83,392.19 L2109.43,391.91 L2110.02,391.64 L2110.61,391.38 L2111.20,391.12 L2111.79,390.87 L2112.39,390.63 L2112.98,390.40 L2113.57,390.17 L2114.16,389.95 L2114.75,389.73 L2115.34,389.52 L2115.94,389.32 L2116.53,389.12 L2117.12,388.93 L2117.71,388.75 L2118.30,388.58 L2118.90,388.41 L2119.49,388.24 L2120.08,388.09 L2120.67,387.94 L2121.26,387.79 L2121.85,387.66 L2122.45,387.53 L2123.04,387.40 L2123.63,387.28 L2124.22,387.17 L2124.81,387.07 L2125.41,386.97 L2126.00,386.88 L2126.59,386.79 L2127.18,386.71 L2127.77,386.64 L2128.37,386.57 L2128.96,386.51 L2129.55,386.46 L2130.14,386.41 L2130.73,386.37 L2131.32,386.33 L2131.92,386.30 L2132.51,386.28 L2133.10,386.26"/>
<g>
<line class="g" x1="475.94" y1="915.10" x2="475.94" y2="1540.80"/>
<line class="g" x1="712.67" y1="915.10" x2="712.67" y2="1540.80"/>
<line class="g" x1="949.41" y1="915.10" x2="949.41" y2="1540.80"/>
<line class="g" x1="1186.15" y1="915.10" x2="1186.15" y2="1540.80"/>
<line class="g" x1="1422.89" y1="915.10" x2="1422.89" y2="1540.80"/>
<line class="g" x1="1659.62" y1="915.10" x2="1659.62" y2="1540.80"/>
<line class="g" x1="1896.36" y1="915.10" x2="1896.36" y2="1540.80"/>
<line class="g" x1="239.30" y1="1071.53" x2="2132.80" y2="1071.53"/>
<line class="g" x1="239.30" y1="1227.95" x2="2132.80" y2="1227.95"/>
<line class="g" x1="239.30" y1="1384.38" x2="2132.80" y2="1384.38"/>
<line class="t" x1="475.94" y1="915.10" x2="475.94" y2="937.90"/>
<line class="t" x1="475.94" y1="1540.80" x2="475.94" y2="1518.20"/>
<line class="t" x1="712.67" y1="915.10" x2="712.67" y2="937.90"/>
<line class="t" x1="712.67" y1="1540.80" x2="712.67" y2="1518.20"/>
<line class="t" x1="949.41" y1="915.10" x2="949.41" y2="937.90"/>
<line class="t" x1="949.41" y1="1540.80" x2="949.41" y2="1518.20"/>
<line class="t" x1="1186.15" y1="915.10" x2="1186.15" y2="937.90"/>
<line class="t" x1="1186.15" y1="1540.80" x2="1186.15" y2="1518.20"/>
<line class="t" x1="1422.89" y1="915.10" x2="1422.89" y2="937.90"/>
<line class="t" x1="1422.89" y1="1540.80" x2="1422.89" y2="1518.20"/>
<line class="t" x1="1659.62" y1="915.10" x2="1659.62" y2="937.90"/>
<line class="t" x1="1659.62" y1="1540.80" x2="1659.62" y2="1518.20"/>
<line class="t" x1="1896.36" y1="915.10" x2="1896.36" y2="937.90"/>
<line class="t" x1="1896.36" y1="1540.80" x2="1896.36" y2="1518.20"/>
<line class="t" x1="239.30" y1="1071.53" x2="261.90" y2="1071.53"/>
<line class="t" x1="2132.80" y1="1071.53" x2="2110.20" y2="1071.53"/>
<line class="t" x1="239.30" y1="1227.95" x2="261.90" y2="1227.95"/>
<line class="t" x1="2132.80" y1="1227.95" x2="2110.20" y2="1227.95"/>
<line class="t" x1="239.30" y1="1384.38" x2="261.90" y2="1384.38"/>
<line class="t" x1="2132.80" y1="1384.38" x2="2110.20" y2="1384.38"/>
<rect class="b" x="239.30" y="915.10" width="1893.50" height="625.70"/>
</g>
<path class="c" d="M239.20,969.85 L474.52,1296.37 L475.94,1016.78 L592.89,1179.05 L594.31,1462.59 L627.30,1508.37 L628.95,947.53 L829.62,1225.98 L831.04,946.38 L1066.36,1272.91 L1067.78,993.31 L1438.97,1508.37 L1440.63,947.53 L1844.80,1508.37 L1846.46,947.53 L1895.18,1015.13 L1896.84,1299.00 L2013.55,1460.95 L2015.20,1181.68 L2133.10,1345.27"/>
<g>
<text class="k" transform="translate(238.20,747.70) scale(1,1.055)" text-anchor="middle">-800</text>
<text class="k" transform="translate(475.09,747.70) scale(1,1.055)" text-anchor="middle">-600</text>
<text class="k" transform="translate(711.98,747.70) scale(1,1.055)" text-anchor="middle">-400</text>
<text class="k" transform="translate(948.86,747.70) scale(1,1.055)" text-anchor="middle">-200</text>
<text class="k" transform="translate(1185.75,747.70) scale(1,1.055)" text-anchor="middle">0</text>
<text class="k" transform="translate(1422.64,747.70) scale(1,1.055)" text-anchor="middle">200</text>
<text class="k" transform="translate(1659.52,747.70) scale(1,1.055)" text-anchor="middle">400</text>
<text class="k" transform="translate(1896.41,747.70) scale(1,1.055)" text-anchor="middle">600</text>
<text class="k" transform="translate(2133.30,747.70) scale(1,1.055)" text-anchor="middle">800</text>
<text class="k" transform="translate(224.40,174.10) scale(1,1.055)" text-anchor="end">0</text>
<text class="k" transform="translate(224.40,382.70) scale(1,1.055)" text-anchor="end">-20</text>
<text class="k" transform="translate(224.40,591.30) scale(1,1.055)" text-anchor="end">-40</text>
<text transform="translate(111.50,357.70) rotate(-90)" text-anchor="middle">Magnitude(db)</text>
</g><g>
<text class="k" transform="translate(238.20,1618.10) scale(1,1.055)" text-anchor="middle">-800</text>
<text class="k" transform="translate(475.09,1618.10) scale(1,1.055)" text-anchor="middle">-600</text>
<text class="k" transform="translate(711.98,1618.10) scale(1,1.055)" text-anchor="middle">-400</text>
<text class="k" transform="translate(948.86,1618.10) scale(1,1.055)" text-anchor="middle">-200</text>
<text class="k" transform="translate(1185.75,1618.10) scale(1,1.055)" text-anchor="middle">0</text>
<text class="k" transform="translate(1422.64,1618.10) scale(1,1.055)" text-anchor="middle">200</text>
<text class="k" transform="translate(1659.52,1618.10) scale(1,1.055)" text-anchor="middle">400</text>
<text class="k" transform="translate(1896.41,1618.10) scale(1,1.055)" text-anchor="middle">600</text>
<text class="k" transform="translate(2133.30,1618.10) scale(1,1.055)" text-anchor="middle">800</text>
<text class="k" transform="translate(224.40,939.70) scale(1,1.055)" text-anchor="end">200</text>
<text class="k" transform="translate(224.40,1096.12) scale(1,1.055)" text-anchor="end">100</text>
<text class="k" transform="translate(224.40,1252.55) scale(1,1.055)" text-anchor="end">0</text>
<text class="k" transform="translate(224.40,1408.97) scale(1,1.055)" text-anchor="end">-100</text>
<text class="k" transform="translate(224.40,1565.40) scale(1,1.055)" text-anchor="end">-200</text>
<text transform="translate(76.80,1228.40) rotate(-90)" text-anchor="middle">Phase (deg)</text>
<text x="1185.60" y="1694.70" text-anchor="middle">Frequency (Hz)</text>
</g></svg></body></html>
